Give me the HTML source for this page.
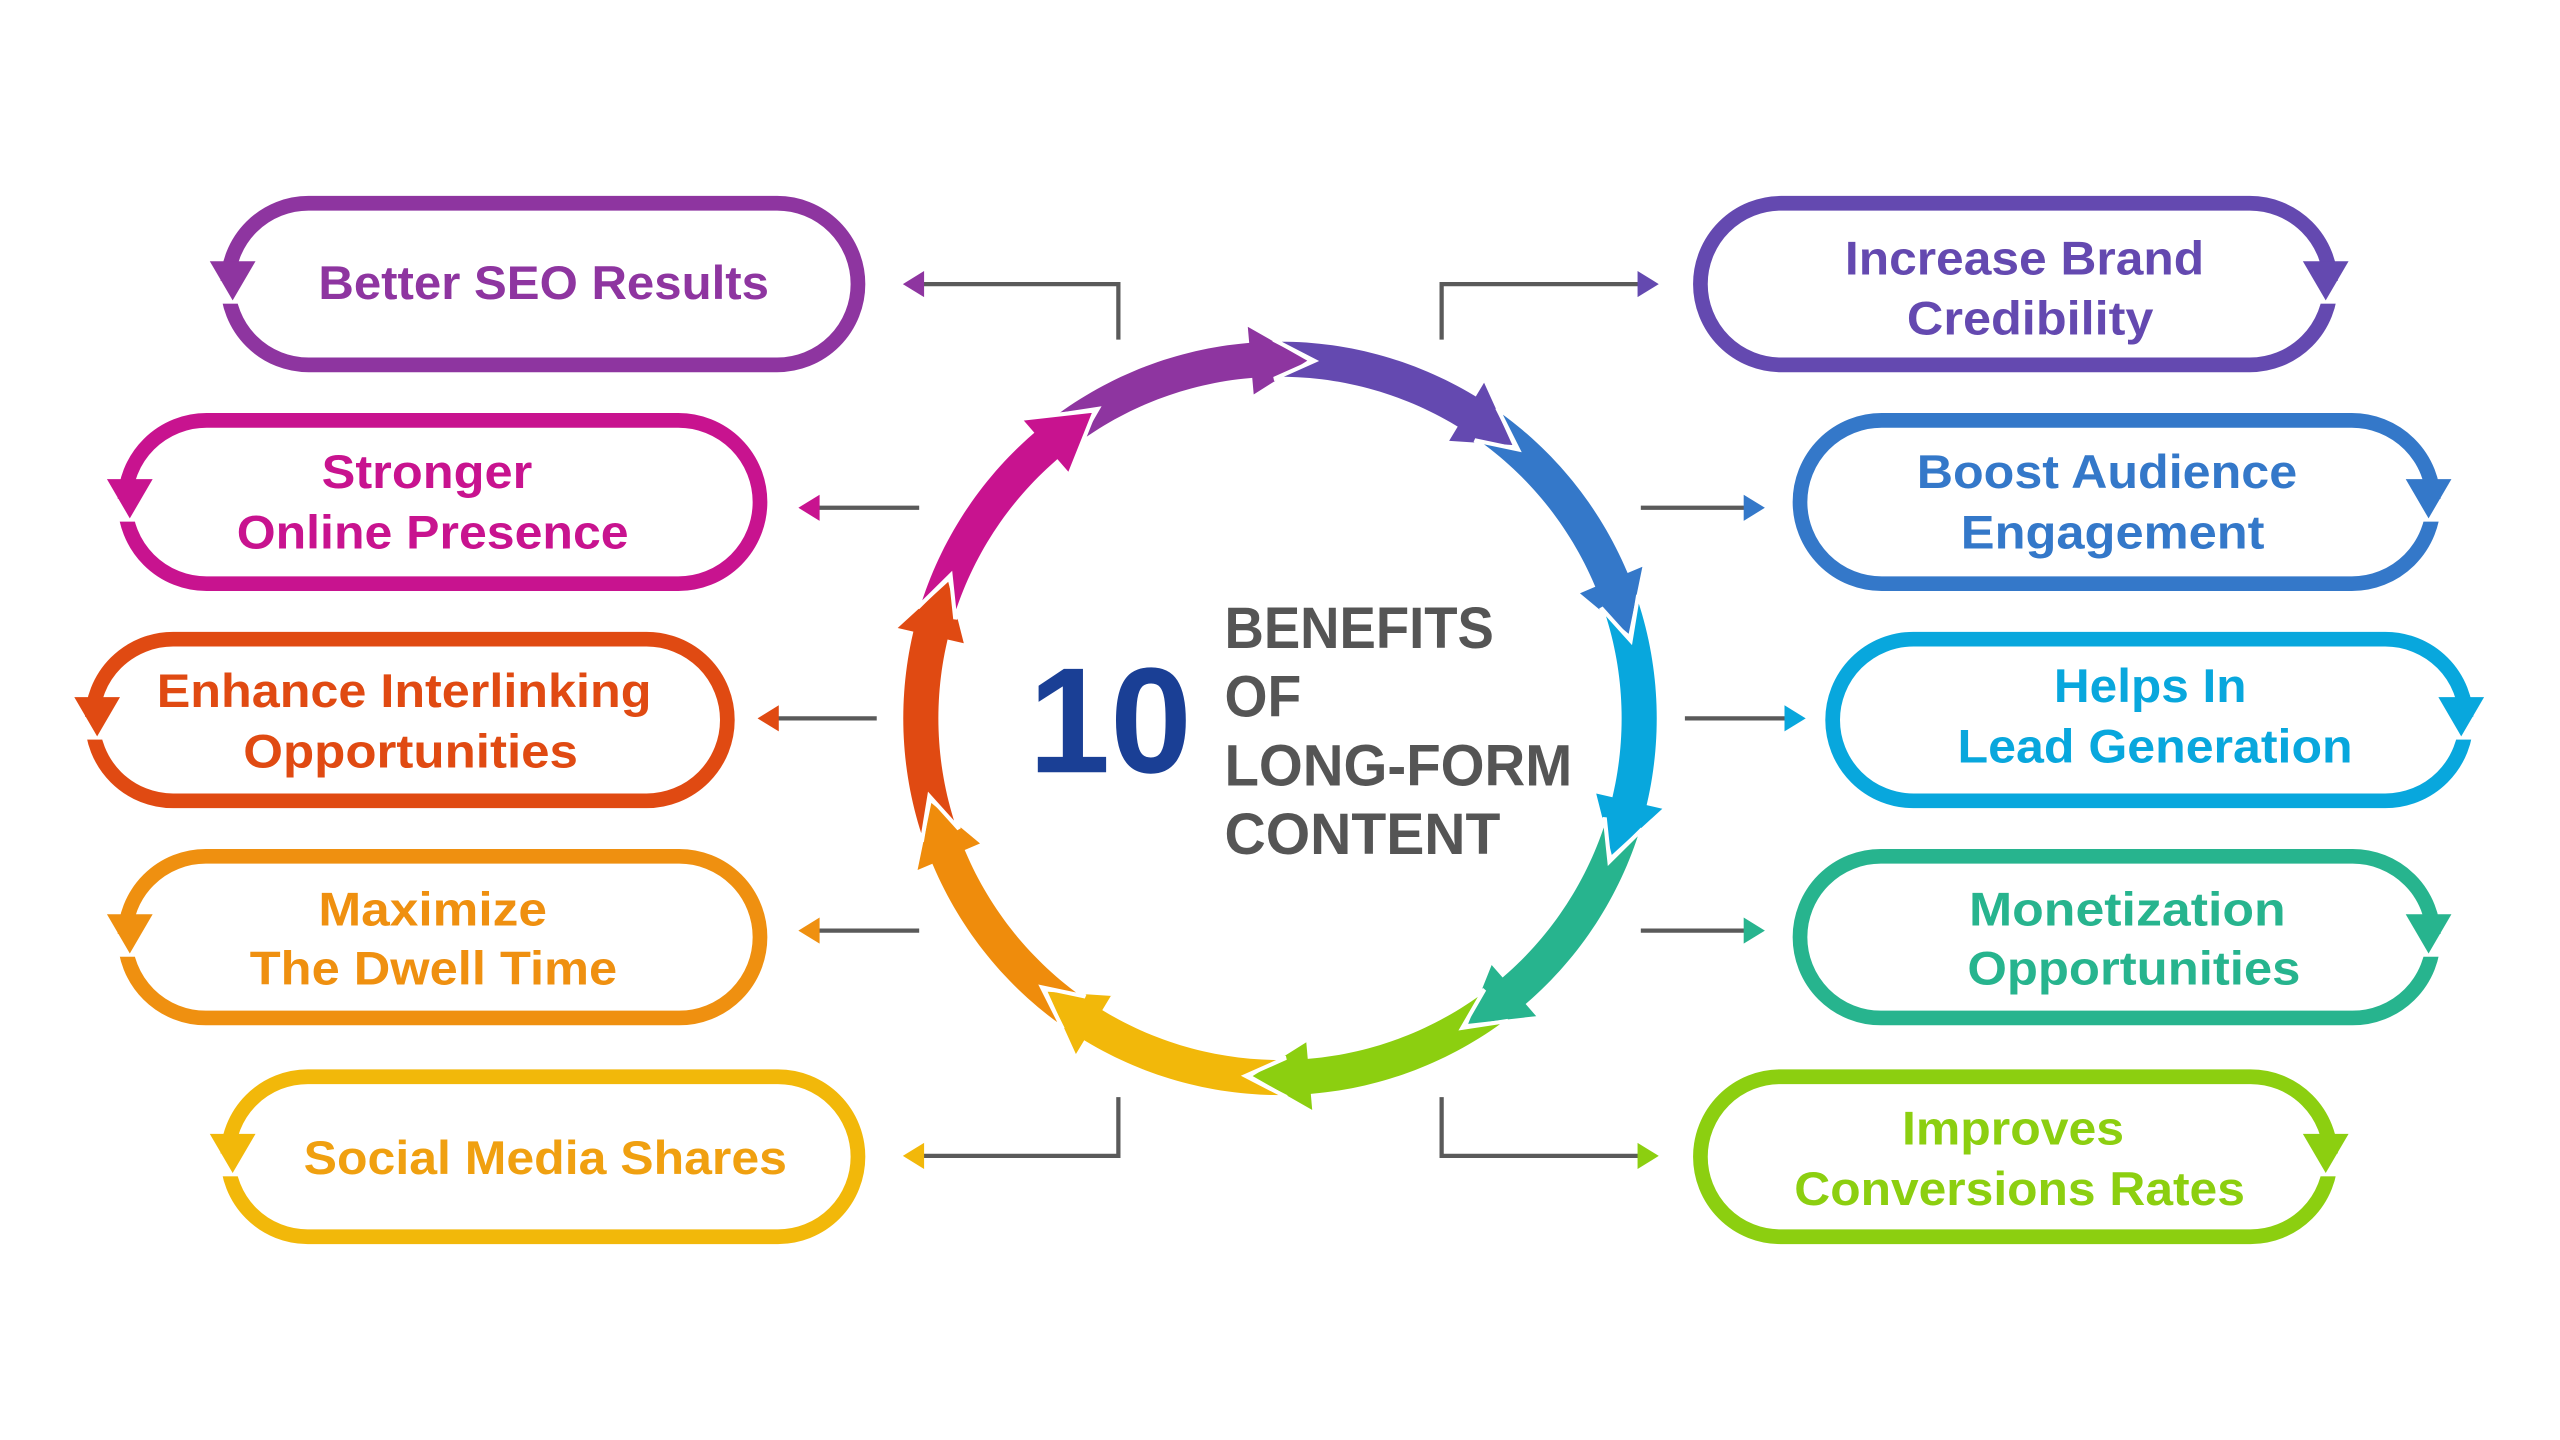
<!DOCTYPE html>
<html><head><meta charset="utf-8"><style>
html,body{margin:0;padding:0;background:#fff;width:2560px;height:1440px;overflow:hidden}
svg{display:block}
text{font-family:"Liberation Sans",sans-serif;font-weight:bold}
</style></head><body>
<svg id="s" width="2560" height="1440" viewBox="0 0 1568 882" xmlns="http://www.w3.org/2000/svg">
<rect width="1568" height="882" fill="#fff"/>
<g id="ring"></g>
<g id="pills" fill="none" stroke-width="9"></g>
<g id="conn" fill="none" stroke="#5a5a5a" stroke-width="2.6"></g>
<g id="heads"></g>
<text x="630" y="473" font-size="92" fill="#1a3f95" textLength="100" lengthAdjust="spacingAndGlyphs">10</text>
<g fill="#555" font-size="36">
<text x="750" y="397" textLength="165" lengthAdjust="spacingAndGlyphs">BENEFITS</text>
<text x="750" y="439" textLength="47" lengthAdjust="spacingAndGlyphs">OF</text>
<text x="750" y="481" textLength="213" lengthAdjust="spacingAndGlyphs">LONG-FORM</text>
<text x="750" y="523" textLength="169" lengthAdjust="spacingAndGlyphs">CONTENT</text>
</g>
<g font-size="29" lengthAdjust="spacingAndGlyphs">
<text x="195" y="183" fill="#8e35a0" textLength="276" lengthAdjust="spacingAndGlyphs">Better SEO Results</text>
<text x="197" y="299" fill="#c8138f" textLength="129" lengthAdjust="spacingAndGlyphs">Stronger</text>
<text x="145" y="336" fill="#c8138f" textLength="240" lengthAdjust="spacingAndGlyphs">Online Presence</text>
<text x="96" y="433" fill="#e04a12" textLength="303" lengthAdjust="spacingAndGlyphs">Enhance Interlinking</text>
<text x="149" y="470" fill="#e04a12" textLength="205" lengthAdjust="spacingAndGlyphs">Opportunities</text>
<text x="195" y="567" fill="#ef9010" textLength="140" lengthAdjust="spacingAndGlyphs">Maximize</text>
<text x="153" y="603" fill="#ef9010" textLength="225" lengthAdjust="spacingAndGlyphs">The Dwell Time</text>
<text x="186" y="719" fill="#f0a010" textLength="296" lengthAdjust="spacingAndGlyphs">Social Media Shares</text>
<text x="1130" y="168" fill="#6449b0" textLength="220" lengthAdjust="spacingAndGlyphs">Increase Brand</text>
<text x="1168" y="205" fill="#6449b0" textLength="151" lengthAdjust="spacingAndGlyphs">Credibility</text>
<text x="1174" y="299" fill="#3478c9" textLength="233" lengthAdjust="spacingAndGlyphs">Boost Audience</text>
<text x="1201" y="336" fill="#3478c9" textLength="186" lengthAdjust="spacingAndGlyphs">Engagement</text>
<text x="1258" y="430" fill="#08a7dd" textLength="118" lengthAdjust="spacingAndGlyphs">Helps In</text>
<text x="1199" y="467" fill="#08a7dd" textLength="242" lengthAdjust="spacingAndGlyphs">Lead Generation</text>
<text x="1206" y="567" fill="#27b48e" textLength="194" lengthAdjust="spacingAndGlyphs">Monetization</text>
<text x="1205" y="603" fill="#27b48e" textLength="204" lengthAdjust="spacingAndGlyphs">Opportunities</text>
<text x="1165" y="701" fill="#8ccf10" textLength="136" lengthAdjust="spacingAndGlyphs">Improves</text>
<text x="1099" y="738" fill="#8ccf10" textLength="276" lengthAdjust="spacingAndGlyphs">Conversions Rates</text>
</g>
</svg>
<script>
(function(){
var NS="http://www.w3.org/2000/svg";
function el(p,tag,a){var e=document.createElementNS(NS,tag);for(var k in a)e.setAttribute(k,a[k]);p.appendChild(e);return e;}
var cx=784,cy=440,rm=220,ri=208,ro=232,hw=23,h=10;
function P(r,a){a=a*Math.PI/180;return [(cx+r*Math.sin(a)).toFixed(2),(cy-r*Math.cos(a)).toFixed(2)].join(",");}
var cols=["#8e35a0","#6449b0","#3478c9","#08a7dd","#27b48e","#8ccf10","#f2b80a","#ef8c0c","#e04a12","#c8138f"];
var ring=document.getElementById("ring");
for(var k=0;k<10;k++){
  var a0=-31+36*k,a1=a0+36,pts=[];
  var t0=a0-h*0.6;
  for(var a=t0;a<=a1-h+0.01;a+=1)pts.push(P(ro,Math.min(a,a1-h)));
  pts.push(P(ro,a1-h));pts.push(P(rm+hw,a1-h));pts.push(P(rm,a1));pts.push(P(rm-hw,a1-h));
  for(var a=a1-h;a>=t0-0.01;a-=1)pts.push(P(ri,Math.max(a,t0)));
  pts.push(P(ri,t0));pts.push(P(rm,a0+0.5));
  el(ring,"polygon",{points:pts.join(" "),fill:cols[k],stroke:"#fff","stroke-width":"2.5","stroke-linejoin":"miter"});
}
var pills=document.getElementById("pills"),heads=document.getElementById("heads");
var L=[[135,530,120,228,"#8e35a0"],[72,470,253,362,"#c8138f"],[52,450,387,495,"#e04a12"],[72,470,520,628,"#ef9010"],[135,530,655,762,"#f2b80a"]];
var R=[[1037,1432,120,228,"#6449b0"],[1098,1495,253,362,"#3478c9"],[1118,1515,387,495,"#08a7dd"],[1098,1495,520,628,"#27b48e"],[1037,1432,655,762,"#8ccf10"]];
function pill(d,left){
  var x0=d[0]+4.5,x1=d[1]-4.5,y0=d[2]+4.5,y1=d[3]-4.5,r=(y1-y0)/2;
  el(pills,"rect",{x:x0,y:y0,width:x1-x0,height:y1-y0,rx:r,ry:r,stroke:d[4]});
  var ax=left?x0+3:x1-3,ay=(y0+y1)/2-2;
  el(heads,"rect",{x:ax-9,y:ay,width:18,height:14,fill:"#fff"});
  el(heads,"polygon",{points:(ax-14)+","+(ay-12)+" "+(ax+14)+","+(ay-12)+" "+ax+","+(ay+12),fill:d[4]});
}
L.forEach(function(d){pill(d,true)});R.forEach(function(d){pill(d,false)});
var conn=document.getElementById("conn");
function line(pts){el(conn,"polyline",{points:pts});}
function ah(x,y,dir,c){var p=dir<0?[x+","+y,(x+13)+","+(y-8),(x+13)+","+(y+8)]:[x+","+y,(x-13)+","+(y-8),(x-13)+","+(y+8)];el(heads,"polygon",{points:p.join(" "),fill:c});}
line("685,208 685,174 565,174");ah(553,174,-1,"#8e35a0");
line("563,311 500,311");ah(489,311,-1,"#c8138f");
line("537,440 475,440");ah(464,440,-1,"#e04a12");
line("563,570 500,570");ah(489,570,-1,"#ef9010");
line("685,672 685,708 565,708");ah(553,708,-1,"#f2b80a");
line("883,208 883,174 1005,174");ah(1016,174,1,"#6449b0");
line("1005,311 1070,311");ah(1081,311,1,"#3478c9");
line("1032,440 1095,440");ah(1106,440,1,"#08a7dd");
line("1005,570 1070,570");ah(1081,570,1,"#27b48e");
line("883,672 883,708 1005,708");ah(1016,708,1,"#8ccf10");
})();
</script>
</body></html>
